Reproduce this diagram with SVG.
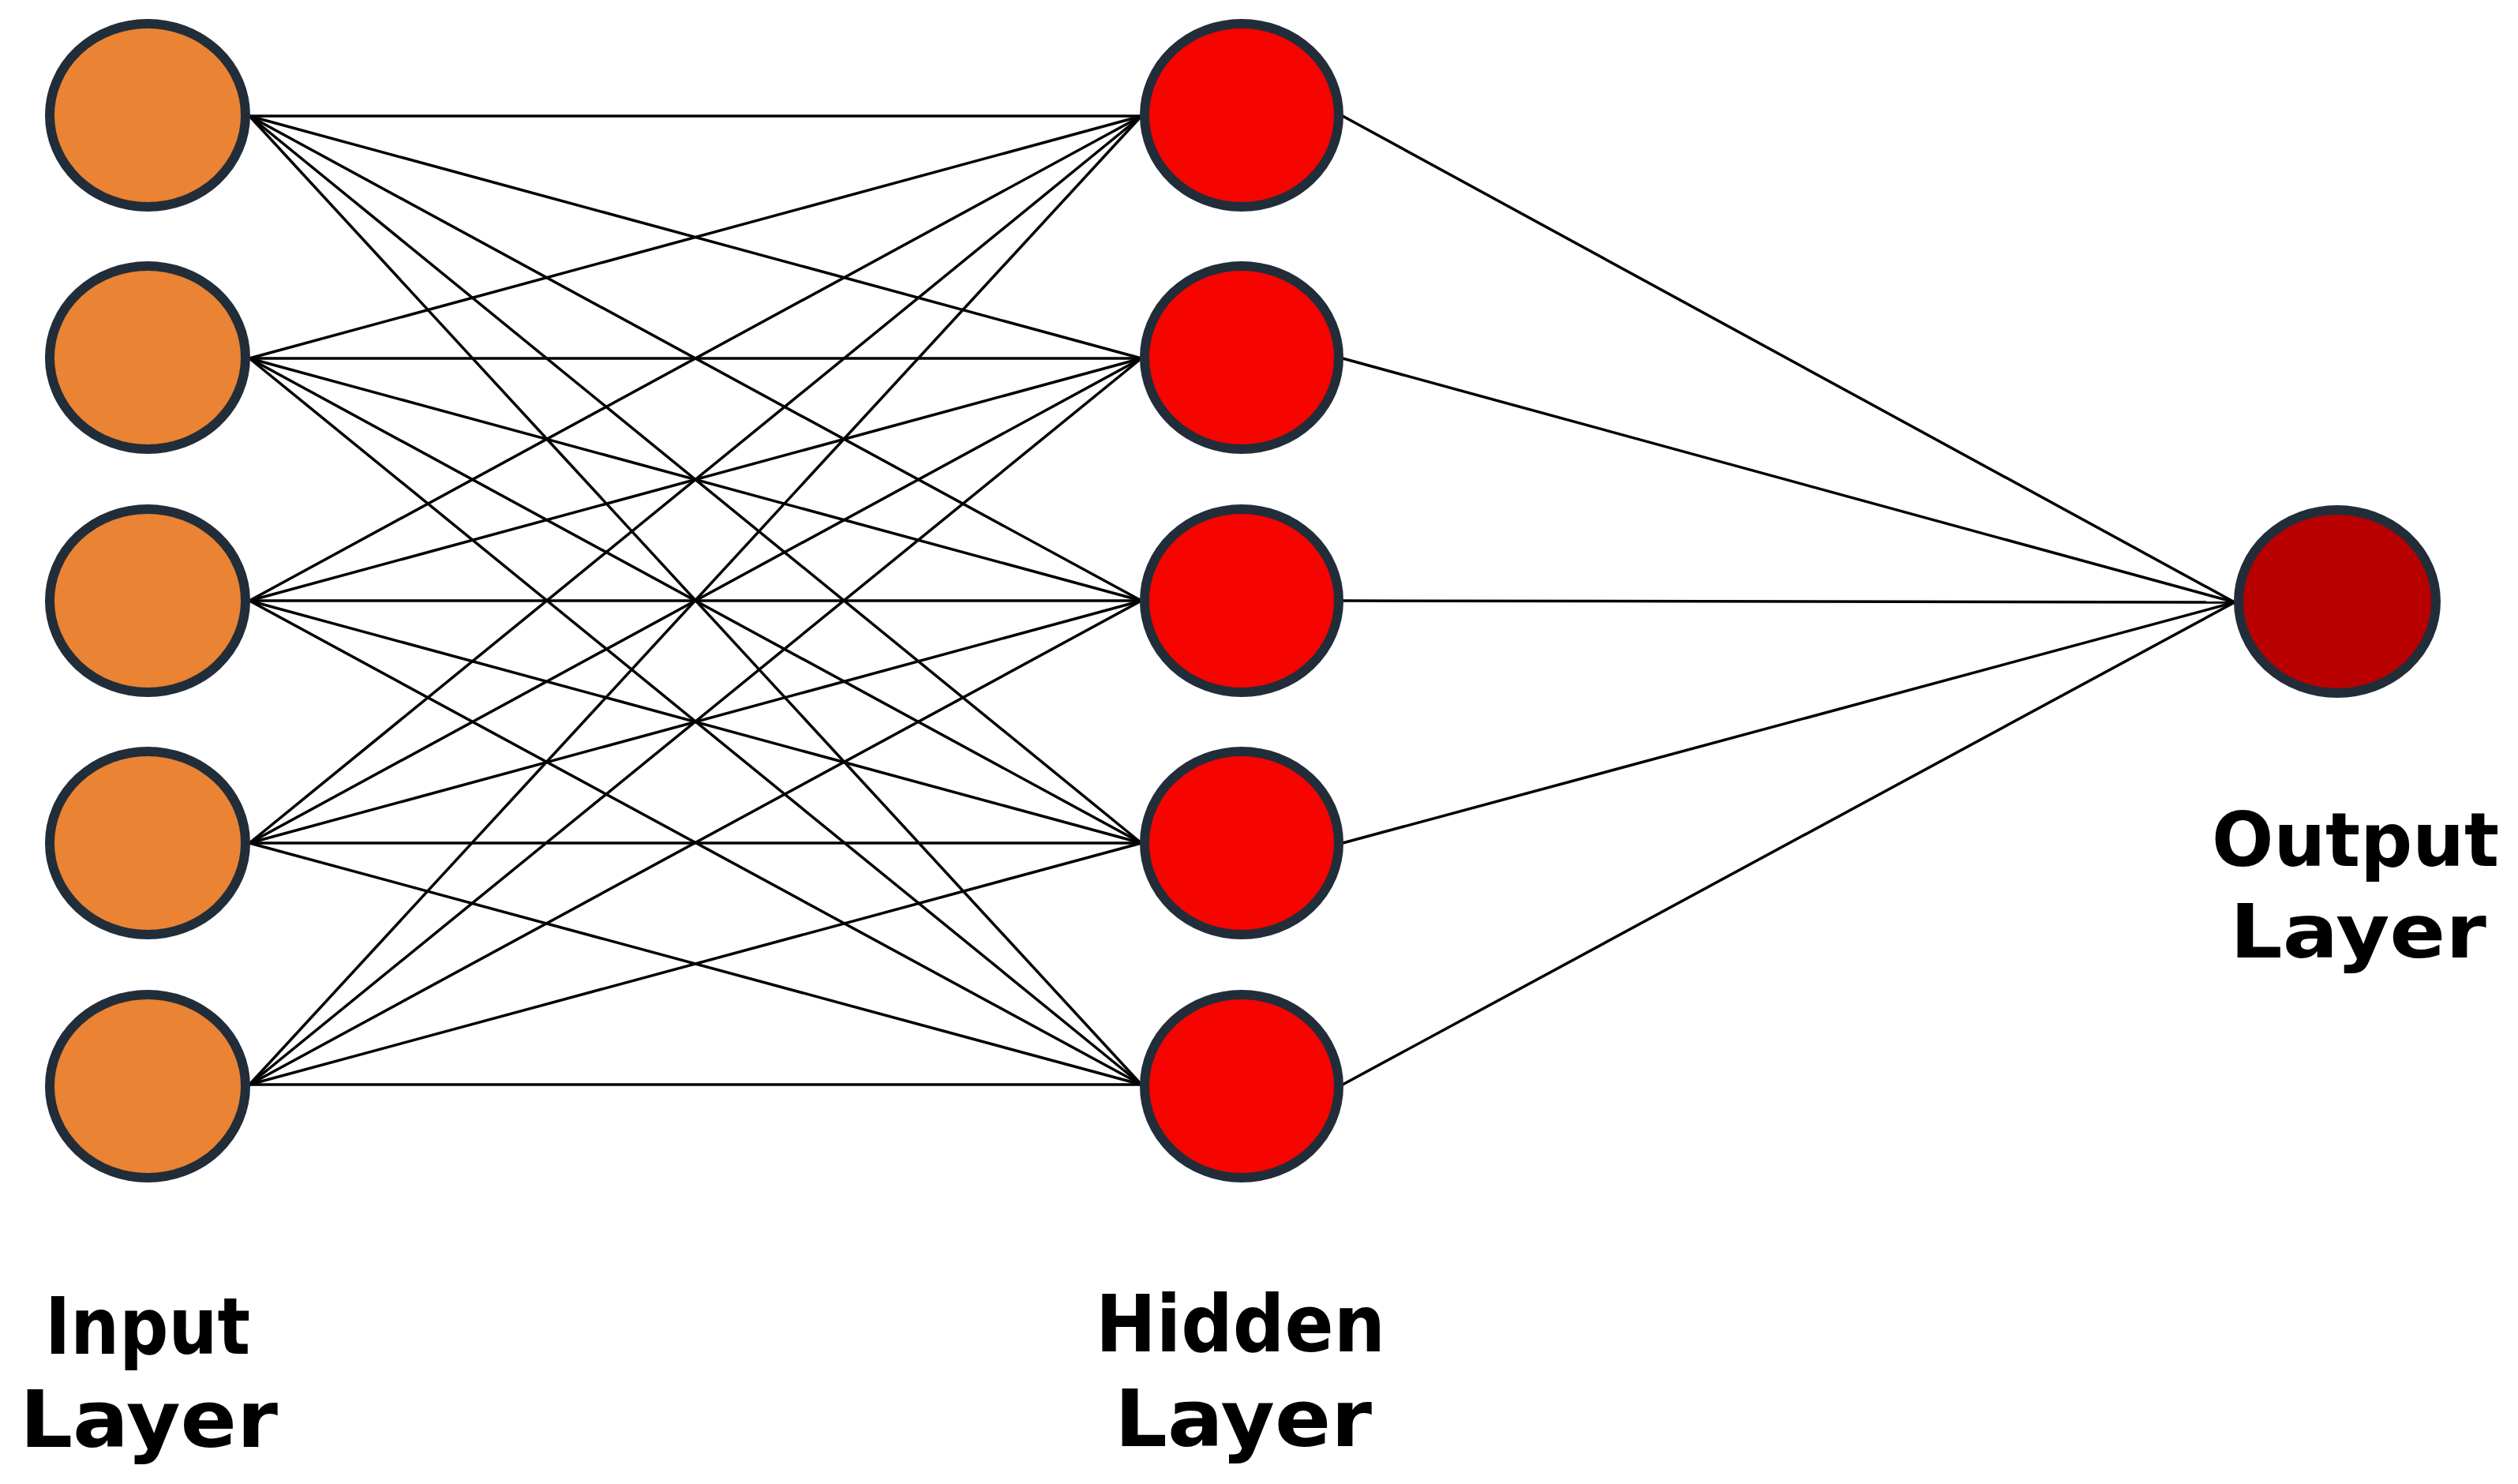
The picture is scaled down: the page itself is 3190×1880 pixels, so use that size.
<svg xmlns="http://www.w3.org/2000/svg" width="3190" height="1880" viewBox="0 0 3190 1880">
<style>
.edge{stroke:#000;stroke-width:3.5;fill:none}
.node{stroke:#222d3a;stroke-width:12}
.in{fill:#ea8333}
.hid{fill:#f50400}
.out{fill:#b80000}
.lbl{font-family:"DejaVu Sans","Liberation Sans",sans-serif;font-weight:bold;font-size:100px;fill:#000}
.lbl2{font-size:94px}
</style>
<rect width="3190" height="1880" fill="#fff"/>
<g id="connectors">
<line class="edge" x1="316" y1="147" x2="1446" y2="147"/>
<line class="edge" x1="316" y1="147" x2="1446" y2="454"/>
<line class="edge" x1="316" y1="147" x2="1446" y2="761"/>
<line class="edge" x1="316" y1="147" x2="1446" y2="1068"/>
<line class="edge" x1="316" y1="147" x2="1446" y2="1374"/>
<line class="edge" x1="316" y1="454" x2="1446" y2="147"/>
<line class="edge" x1="316" y1="454" x2="1446" y2="454"/>
<line class="edge" x1="316" y1="454" x2="1446" y2="761"/>
<line class="edge" x1="316" y1="454" x2="1446" y2="1068"/>
<line class="edge" x1="316" y1="454" x2="1446" y2="1374"/>
<line class="edge" x1="316" y1="761" x2="1446" y2="147"/>
<line class="edge" x1="316" y1="761" x2="1446" y2="454"/>
<line class="edge" x1="316" y1="761" x2="1446" y2="761"/>
<line class="edge" x1="316" y1="761" x2="1446" y2="1068"/>
<line class="edge" x1="316" y1="761" x2="1446" y2="1374"/>
<line class="edge" x1="316" y1="1068" x2="1446" y2="147"/>
<line class="edge" x1="316" y1="1068" x2="1446" y2="454"/>
<line class="edge" x1="316" y1="1068" x2="1446" y2="761"/>
<line class="edge" x1="316" y1="1068" x2="1446" y2="1068"/>
<line class="edge" x1="316" y1="1068" x2="1446" y2="1374"/>
<line class="edge" x1="316" y1="1374" x2="1446" y2="147"/>
<line class="edge" x1="316" y1="1374" x2="1446" y2="454"/>
<line class="edge" x1="316" y1="1374" x2="1446" y2="761"/>
<line class="edge" x1="316" y1="1374" x2="1446" y2="1068"/>
<line class="edge" x1="316" y1="1374" x2="1446" y2="1374"/>
<line class="edge" x1="1701" y1="147" x2="2831" y2="763"/>
<line class="edge" x1="1701" y1="454" x2="2831" y2="763"/>
<line class="edge" x1="1701" y1="761" x2="2831" y2="763"/>
<line class="edge" x1="1701" y1="1068" x2="2831" y2="763"/>
<line class="edge" x1="1701" y1="1374" x2="2831" y2="763"/>
</g>
<g id="input1"><ellipse class="node in" cx="187" cy="146" rx="124" ry="116"/></g>
<g id="input2"><ellipse class="node in" cx="187" cy="453" rx="124" ry="116"/></g>
<g id="input3"><ellipse class="node in" cx="187" cy="761" rx="124" ry="116"/></g>
<g id="input4"><ellipse class="node in" cx="187" cy="1068" rx="124" ry="116"/></g>
<g id="input5"><ellipse class="node in" cx="187" cy="1376" rx="124" ry="116"/></g>
<g id="hidden1"><ellipse class="node hid" cx="1573" cy="146" rx="123" ry="116"/></g>
<g id="hidden2"><ellipse class="node hid" cx="1573" cy="453" rx="123" ry="116"/></g>
<g id="hidden3"><ellipse class="node hid" cx="1573" cy="761" rx="123" ry="116"/></g>
<g id="hidden4"><ellipse class="node hid" cx="1573" cy="1068" rx="123" ry="116"/></g>
<g id="hidden5"><ellipse class="node hid" cx="1573" cy="1376" rx="123" ry="116"/></g>
<g id="output1"><ellipse class="node out" cx="2961" cy="762" rx="125" ry="116"/></g>
<g id="label-input">
<text class="lbl" x="57" y="1715" textLength="260" lengthAdjust="spacingAndGlyphs">Input</text>
<text class="lbl" x="25" y="1833" textLength="327" lengthAdjust="spacingAndGlyphs">Layer</text>
</g>
<g id="label-hidden">
<text class="lbl" x="1388" y="1712" textLength="367" lengthAdjust="spacingAndGlyphs">Hidden</text>
<text class="lbl" x="1412" y="1832" textLength="326" lengthAdjust="spacingAndGlyphs">Layer</text>
</g>
<g id="label-output">
<text class="lbl lbl2" x="2802" y="1097" textLength="364" lengthAdjust="spacingAndGlyphs">Output</text>
<text class="lbl lbl2" x="2825" y="1213" textLength="325" lengthAdjust="spacingAndGlyphs">Layer</text>
</g>
</svg>
